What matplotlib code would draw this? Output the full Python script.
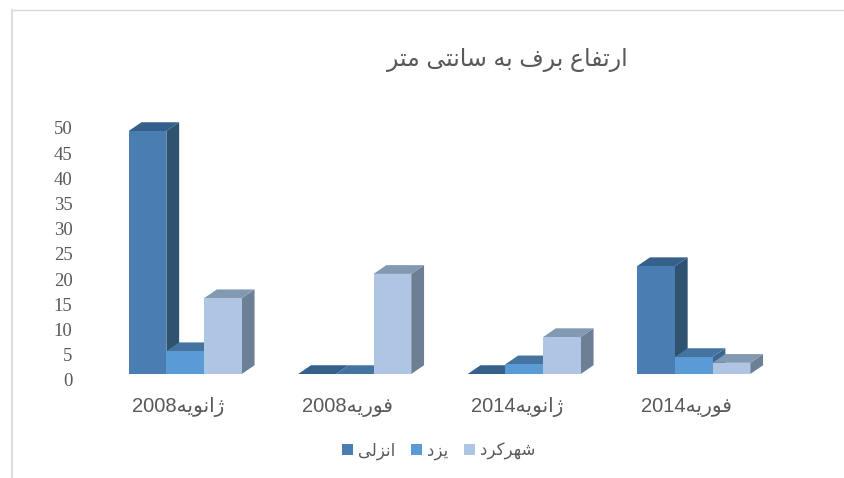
import matplotlib
matplotlib.use("Agg")
import matplotlib.pyplot as plt
from matplotlib.lines import Line2D
from matplotlib.patches import Patch, Polygon

months = ["ژانویه", "فوریه", "ژانویه", "فوریه"]
years = ["2008", "2008", "2014", "2014"]
series_names = ["انزلی", "یزد", "شهرکرد"]
anzali = [50, 0, 0, 22.2]
yazd = [4.7, 0, 2, 3.5]
shahrekord = [15.6, 20.6, 7.6, 2.3]
y_ticks = [0, 5, 10, 15, 20, 25, 30, 35, 40, 45, 50]
title_text = "ارتفاع برف به سانتی متر"

front_colors = ["#4a7eb2", "#5b9bd5", "#aec6e4"]
top_colors = ["#35608c", "#44749f", "#8299b2"]
side_colors = ["#2e5270", "#3c6690", "#6c7f95"]
text_color = "#595959"

W, H = 844, 478

# matplotlib does no arabic shaping, so pick the presentation forms by hand
# letter: isolated, final, initial, medial
FORMS = {
    "ا": "\ufe8d\ufe8e",
    "د": "\ufea9\ufeaa",
    "ر": "\ufead\ufeae",
    "ز": "\ufeaf\ufeb0",
    "ژ": "\ufb8a\ufb8b",
    "و": "\ufeed\ufeee",
    "ب": "\ufe8f\ufe90\ufe91\ufe92",
    "ت": "\ufe95\ufe96\ufe97\ufe98",
    "س": "\ufeb1\ufeb2\ufeb3\ufeb4",
    "ش": "\ufeb5\ufeb6\ufeb7\ufeb8",
    "ع": "\ufec9\ufeca\ufecb\ufecc",
    "ف": "\ufed1\ufed2\ufed3\ufed4",
    "ک": "\ufb8e\ufb8f\ufb90\ufb91",
    "ل": "\ufedd\ufede\ufedf\ufee0",
    "م": "\ufee1\ufee2\ufee3\ufee4",
    "ن": "\ufee5\ufee6\ufee7\ufee8",
    "ه": "\ufee9\ufeea\ufeeb\ufeec",
    "ی": "\ufbfc\ufbfd\ufbfe\ufbff",
}


def shape(text):
    out = []
    for i, ch in enumerate(text):
        if ch not in FORMS:
            out.append(ch)
            continue
        prev = text[i - 1] if i > 0 else " "
        nxt = text[i + 1] if i < len(text) - 1 else " "
        joins_prev = prev in FORMS and len(FORMS[prev]) == 4
        joins_next = nxt in FORMS and len(FORMS[ch]) == 4
        if joins_prev and joins_next:
            out.append(FORMS[ch][3])
        elif joins_prev:
            out.append(FORMS[ch][1])
        elif joins_next:
            out.append(FORMS[ch][2])
        else:
            out.append(FORMS[ch][0])
    return "".join(reversed(out))


plt.rcParams["font.family"] = ["Liberation Sans", "DejaVu Sans"]

fig = plt.figure(figsize=(W / 100, H / 100), dpi=100)

# frame remains of the pasted chart
fig.add_artist(Line2D([11.5 / W, 11.5 / W], [0, 1 - 9.5 / H], color="#d9d9d9", lw=1.3))
fig.add_artist(Line2D([11.5 / W, 1], [1 - 9.5 / H, 1 - 9.5 / H], color="#d9d9d9", lw=1.0))

# main axes: 0 at the front baseline, 50 at the front top of the tall bar
ax = fig.add_axes([93 / W, 1 - 374 / H, 678 / W, 243 / H])
ax.set_xlim(-0.5, 3.5)
ax.set_ylim(0, 50)
ax.patch.set_alpha(0)
for s in ax.spines.values():
    s.set_visible(False)
ax.set_yticks([])
ax.set_xticks(range(len(months)))
ax.set_xticklabels([y + shape(m) for y, m in zip(years, months)],
                   fontsize=14.5, color=text_color, va="baseline")
ax.tick_params(axis="x", length=0, pad=27.4)

bar_w = 0.2224
shift = 0.044
depth_x = 0.0755
depth_y = 1.8

all_series = [anzali, yazd, shahrekord]
for g in range(len(months)):
    for k, values in enumerate(all_series):
        v = values[g]
        x0 = g + shift + (k - 1.5) * bar_w
        x1 = x0 + bar_w
        side = [(x1, 0), (x1 + depth_x, depth_y), (x1 + depth_x, v + depth_y), (x1, v)]
        top = [(x0, v), (x0 + depth_x, v + depth_y), (x1 + depth_x, v + depth_y), (x1, v)]
        ax.add_patch(Polygon(side, closed=True, fc=side_colors[k], ec="none", clip_on=False))
        ax.add_patch(Polygon(top, closed=True, fc=top_colors[k], ec="none", clip_on=False))
        ax.bar(x0, v, width=bar_w, align="edge", color=front_colors[k], clip_on=False)

# value labels sit a little off the bar scale, so they get their own axis
ax_y = fig.add_axes([74 / W, 1 - 380 / H, 10 / W, 252 / H])
ax_y.set_ylim(0, 50)
ax_y.set_xticks([])
ax_y.set_yticks(y_ticks)
ax_y.set_yticklabels([str(t) for t in y_ticks], family="Liberation Serif",
                     fontsize=13.5, color=text_color)
ax_y.tick_params(axis="y", length=0, pad=1)
ax_y.patch.set_alpha(0)
for s in ax_y.spines.values():
    s.set_visible(False)

fig.text(507 / W, 1 - 60 / H, shape(title_text), fontsize=17, color=text_color,
         ha="center", va="center")

handles = [Patch(fc=c, ec="none") for c in front_colors]
fig.legend(handles, [shape(n) for n in series_names], ncol=3, frameon=False,
           loc="center", bbox_to_anchor=(438.5 / W, 1 - 451 / H), fontsize=12,
           labelcolor=text_color, handlelength=0.66, handleheight=0.66,
           handletextpad=0.3, columnspacing=0.96)

fig.savefig("out.png", dpi=100)
